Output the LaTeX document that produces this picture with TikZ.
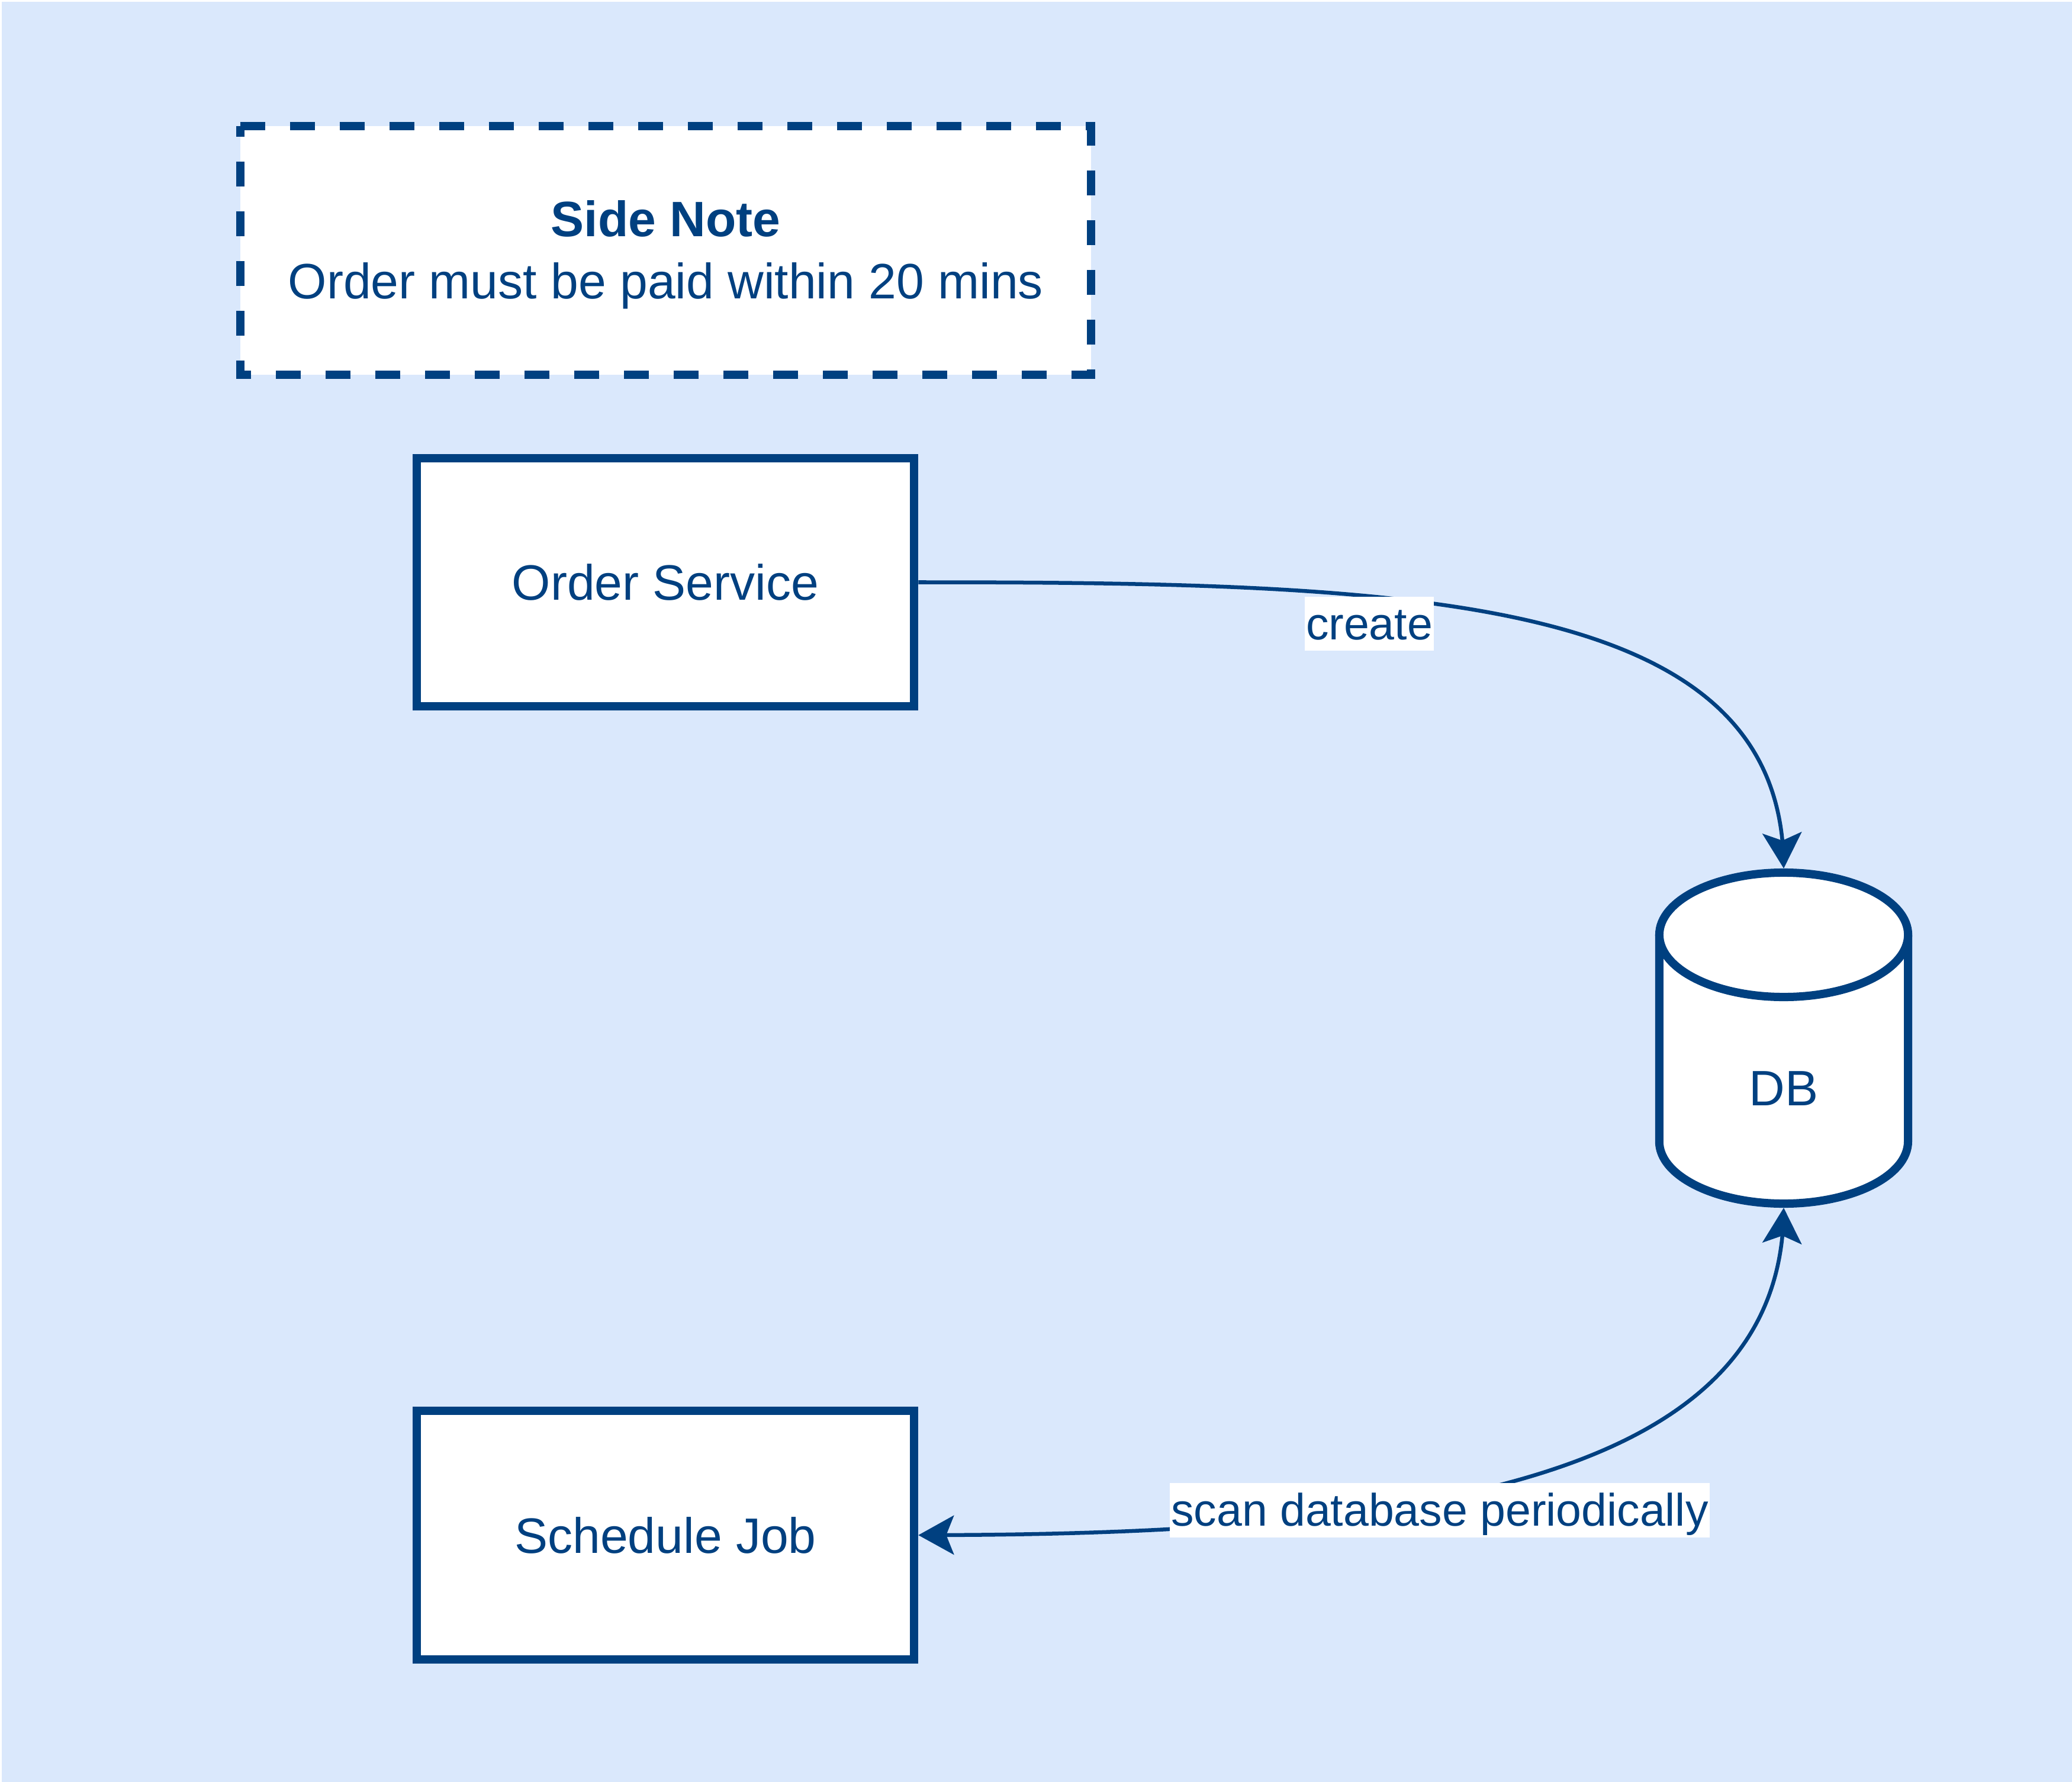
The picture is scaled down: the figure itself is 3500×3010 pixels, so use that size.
\documentclass[tikz,border=0pt]{standalone}
\usepackage{fontspec}
\setmainfont{Liberation Sans}
\usetikzlibrary{arrows.meta,bending}
\definecolor{dblue}{HTML}{004080}
\definecolor{bgblue}{HTML}{DAE8FC}
\newcommand\mainfnt{\fontsize{23.9pt}{29.88pt}\selectfont}
\newcommand\lblfnt{\fontsize{21.9pt}{26pt}\selectfont}
\begin{document}
\begin{tikzpicture}[x=0.01cm,y=-0.01cm,
  box/.style={draw=dblue, fill=white, line width=0.14cm, minimum width=8.4cm,
    minimum height=4.19cm, inner sep=0pt, text=dblue, font=\mainfnt},
  notebox/.style={fill=white, minimum width=14.37cm, minimum height=4.20cm,
    inner sep=0pt, outer sep=0pt},
  notedash/.style={draw=dblue, line width=0.14cm, dash pattern=on 0.42cm off 0.42cm},
  cylbox/.style={minimum width=4.2cm, minimum height=5.59cm, inner sep=0pt, outer sep=0.07cm},
  cylline/.style={draw=dblue, line width=0.14cm, line join=round},
  txt/.style={text=dblue, font=\mainfnt, inner sep=0pt},
  edge/.style={draw=dblue, line width=0.065cm},
  lbl/.style={fill=white, text=dblue, font=\lblfnt, inner xsep=0.02cm, inner ysep=0.02cm,
    text height=0.70cm, text depth=0.17cm},
  >={Stealth[length=0.6cm, width=0.66cm, inset=0.13cm]}
]
\useasboundingbox (0,0) rectangle (3500,3010);
\fill[white] (0,0) rectangle (3500,3010);
\fill[bgblue] (3,3) rectangle (3500,3010);

% side note
\node[notebox] (sn) at (1124.5,423) {};
\draw[notedash] (sn.north west) -- (sn.north east) -- (sn.south east) -- (sn.south west) -- cycle;
\node[txt, align=center] (snt) at (1124.5,430) {\textbf{Side Note}\\Order must be paid within 20 mins};

% boxes
\node[box] (os) at (1124,983.5) {Order Service};
\node[box] (sj) at (1124,2593) {Schedule Job};

% cylinder
\node[cylbox] (db) at (3013,1753.5) {};
\fill[white] (2803,1579) rectangle (3223,1928);
\fill[white] (3013,1579) ellipse [x radius=2.1cm, y radius=1.05cm];
\fill[white] (3013,1928) ellipse [x radius=2.1cm, y radius=1.05cm];
\draw[cylline] (3223,1579) -- (3223,1928)
  arc[start angle=0, end angle=-180, x radius=2.1cm, y radius=1.05cm]
  -- ++(0,-349);
\draw[cylline] (3013,1579) ellipse [x radius=2.1cm, y radius=1.05cm];
\node[txt] (dbt) at (3013,1838.5) {DB};

% connectors
\draw[edge, ->] (os.east) .. controls +(850,0) and +(0,-460) .. (db.north);
\draw[edge, <->] (db.south) .. controls +(0,460) and +(850,0) .. (sj.east);

% labels
\node[lbl] (lc) at (2313,1053.5) {create};
\node[lbl] (ls) at (2432,2551) {scan database periodically};
\end{tikzpicture}
\end{document}
